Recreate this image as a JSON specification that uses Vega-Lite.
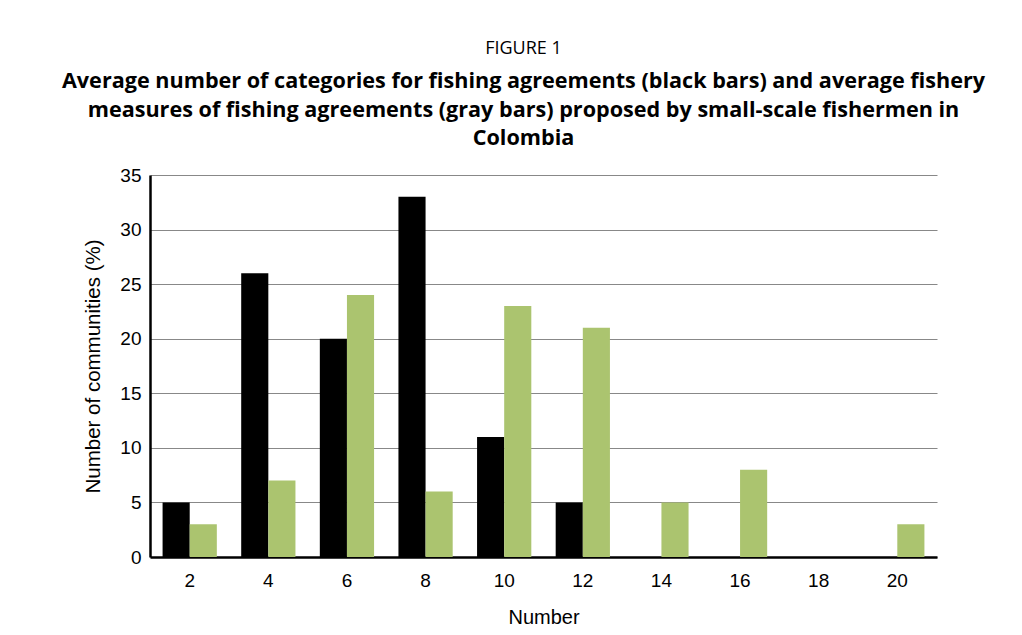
{
  "$schema": "https://vega.github.io/schema/vega-lite/v6.json",
  "width": 787,
  "height": 382,
  "autosize": {"type": "none"},
  "padding": {"left": 150, "top": 175, "right": 85, "bottom": 78},
  "background": "white",
  "title": {
    "text": "FIGURE 1",
    "subtitle": ["Average number of categories for fishing agreements (black bars) and average fishery", "measures of fishing agreements (gray bars) proposed by small-scale fishermen in", "Colombia"],
    "anchor": "middle",
    "dx": -20,
    "offset": 16,
    "font": "Open Sans",
    "fontSize": 18,
    "fontWeight": "normal",
    "color": "black",
    "subtitleFont": "Open Sans",
    "subtitleFontSize": 21.6,
    "subtitleFontWeight": "bold",
    "subtitleColor": "black",
    "subtitleLineHeight": 28.5,
    "subtitlePadding": 13
  },
  "data": {
    "values": [
      {"number": "2", "series": "Categories", "value": 5},
      {"number": "2", "series": "Measures", "value": 3},
      {"number": "4", "series": "Categories", "value": 26},
      {"number": "4", "series": "Measures", "value": 7},
      {"number": "6", "series": "Categories", "value": 20},
      {"number": "6", "series": "Measures", "value": 24},
      {"number": "8", "series": "Categories", "value": 33},
      {"number": "8", "series": "Measures", "value": 6},
      {"number": "10", "series": "Categories", "value": 11},
      {"number": "10", "series": "Measures", "value": 23},
      {"number": "12", "series": "Categories", "value": 5},
      {"number": "12", "series": "Measures", "value": 21},
      {"number": "14", "series": "Categories", "value": 0},
      {"number": "14", "series": "Measures", "value": 5},
      {"number": "16", "series": "Categories", "value": 0},
      {"number": "16", "series": "Measures", "value": 8},
      {"number": "18", "series": "Categories", "value": 0},
      {"number": "18", "series": "Measures", "value": 0},
      {"number": "20", "series": "Categories", "value": 0},
      {"number": "20", "series": "Measures", "value": 3}
    ]
  },
  "mark": {"type": "bar"},
  "encoding": {
    "x": {
      "field": "number",
      "type": "ordinal",
      "sort": null,
      "scale": {"paddingInner": 0.31, "paddingOuter": 0.16},
      "axis": {
        "title": "Number",
        "titleFont": "Liberation Sans",
        "titleFontSize": 20,
        "titleFontWeight": "normal",
        "titleColor": "black",
        "titlePadding": 17,
        "labelFont": "Liberation Sans",
        "labelFontSize": 19,
        "labelColor": "black",
        "labelAngle": 0,
        "labelPadding": 14,
        "ticks": false,
        "domainColor": "black",
        "domainWidth": 2.5
      }
    },
    "xOffset": {"field": "series", "type": "nominal", "scale": {"paddingInner": 0, "paddingOuter": 0}},
    "y": {
      "field": "value",
      "type": "quantitative",
      "scale": {"domain": [0, 35], "nice": false},
      "axis": {
        "title": "Number of communities (%)",
        "titleFont": "Liberation Sans",
        "titleFontSize": 20.5,
        "titleFontWeight": "normal",
        "titleColor": "black",
        "titlePadding": 16,
        "values": [0, 5, 10, 15, 20, 25, 30, 35],
        "labelFont": "Liberation Sans",
        "labelFontSize": 19,
        "labelColor": "black",
        "labelPadding": 9,
        "ticks": false,
        "grid": true,
        "gridColor": "#888888",
        "gridWidth": 1.2,
        "domainColor": "black",
        "domainWidth": 2.5
      }
    },
    "color": {
      "field": "series",
      "type": "nominal",
      "scale": {"domain": ["Categories", "Measures"], "range": ["#000000", "#abc46f"]},
      "legend": null
    }
  },
  "config": {"view": {"stroke": null}}
}
